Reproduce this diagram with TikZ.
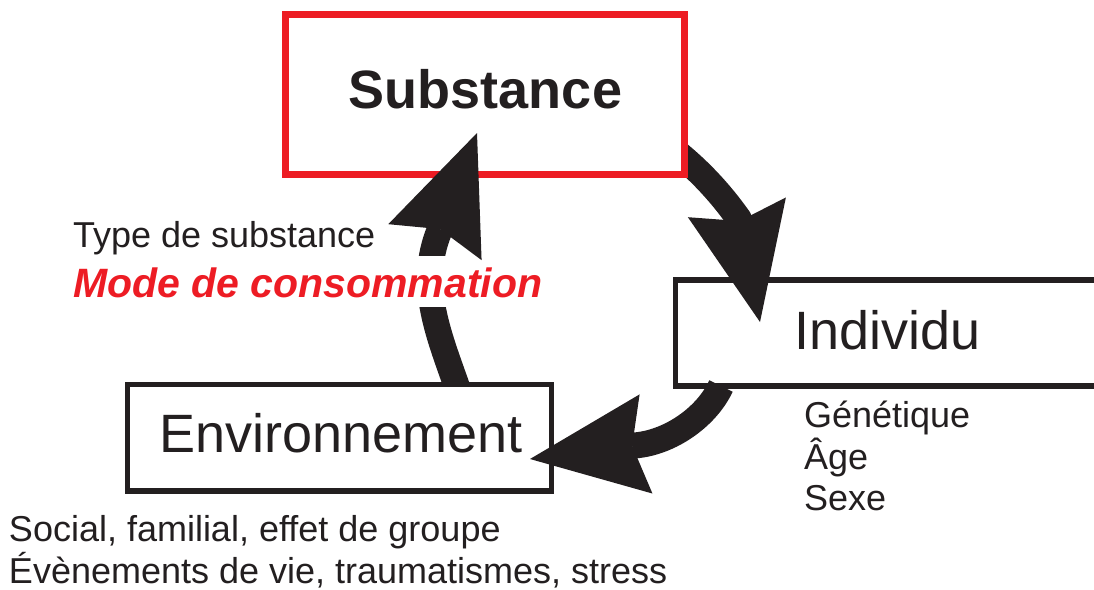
\documentclass[tikz,border=0pt]{standalone}
\usepackage{fontspec}
\setmainfont{Liberation Sans}
\usetikzlibrary{arrows.meta,calc}
\definecolor{ink}{HTML}{231F20}
\definecolor{redbox}{HTML}{ED1C24}
\begin{document}
\begin{tikzpicture}[x=1pt,y=-1pt,
  box/.style={draw=ink, line width=5.5pt, fill=white, inner sep=0pt, outer sep=0pt},
  redframe/.style={draw=redbox, line width=7pt, fill=white, inner sep=0pt, outer sep=0pt},
  cyclearrow/.style={draw=ink, line width=26pt, line cap=butt, line join=round,
    -{Stealth[length=117pt,width=100pt,inset=14pt,line width=0pt]}},
  lab/.style={inner sep=0pt, outer sep=0pt, text=ink},
  boxtext/.style={lab, font=\fontsize{54}{54}\selectfont},
  bigtitle/.style={lab, font=\fontsize{54}{54}\selectfont\bfseries},
  note/.style={lab, font=\fontsize{36}{36}\selectfont, anchor=base west},
  mode/.style={inner sep=0pt, outer sep=0pt, text=redbox, anchor=base west,
    font=\fontsize{41}{41}\selectfont\bfseries\itshape}]
\useasboundingbox (0,0) rectangle (1094,589);

% boxes and arrows, in stacking order
\node[box, minimum width=444.5pt, minimum height=106pt] (ind) at (897.75,333) {};

\coordinate (k1) at (739.4,219.8);
\coordinate (t1) at (760,322);
\draw[cyclearrow] ($(ind.north west)+(-3.5,-131.5)$) coordinate (s1)
  .. controls (698,168.8) and (720.5,192.8) .. (k1) -- (t1);

\node[redframe, minimum width=399pt, minimum height=160pt] (sub) at (485,94.5) {};

\coordinate (k3) at (439.3,230.8);
\coordinate (t3) at (477,133);
\draw[cyclearrow] ($(sub.south west)+(173.8,218.9)$) coordinate (s3)
  .. controls (439.7,336.7) and (416.8,286.4) .. (k3) -- (t3);

\node[box, minimum width=424pt, minimum height=106.5pt] (env) at (339.5,437.75) {};

\coordinate (k2) at (634.1,445.5);
\coordinate (t2) at (530,459);
\draw[cyclearrow] ([xshift=45.5pt]ind.south west) coordinate (s2)
  .. controls (706.2,417.7) and (669,443) .. (k2) -- (t2);

% gap in the arrow behind the red text
\fill[white] (404,256) rectangle (464,307);

% texts
\node[bigtitle, anchor=base] (subl) at (485.5,108) {Substance};
\node[boxtext, anchor=base] (indl) at (887.5,349) {Individu};
\node[boxtext, anchor=base] (envl) at (341,452) {Environnement};

\node[note] (type) at (73,247) {Type de substance};
\node[mode] (modec) at (73,297) {Mode de consommation};

\node[note] (gen) at (804,427) {Génétique};
\node[note] (age) at (804,469) {Âge};
\node[note] (sexe) at (804,510) {Sexe};

\node[note] (soc) at (9,541) {Social, familial, effet de groupe};
\node[note] (evt) at (9,583) {Évènements de vie, traumatismes, stress};
\end{tikzpicture}
\end{document}
